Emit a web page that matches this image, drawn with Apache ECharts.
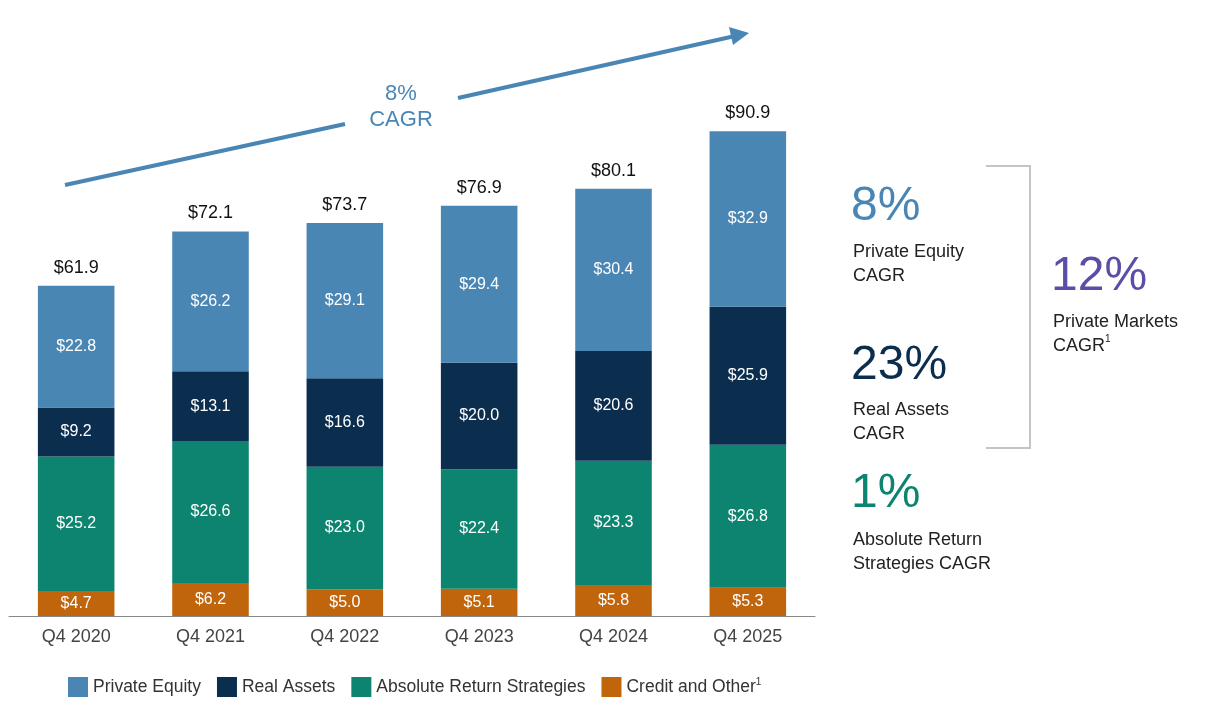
<!DOCTYPE html>
<html>
<head>
<meta charset="utf-8">
<script src="https://cdn.jsdelivr.net/npm/echarts@6/dist/echarts.min.js"></script>
<style>
html,body{margin:0;padding:0;background:#fff;}
#main{width:1205px;height:712px;}
</style>
</head>
<body>
<div id="main"></div>
<script>
// 数据
var quarters = ['Q4 2020', 'Q4 2021', 'Q4 2022', 'Q4 2023', 'Q4 2024', 'Q4 2025'];
var privateEquity = [22.8, 26.2, 29.1, 29.4, 30.4, 32.9];
var realAssets = [9.2, 13.1, 16.6, 20.0, 20.6, 25.9];
var absoluteReturn = [25.2, 26.6, 23.0, 22.4, 23.3, 26.8];
var creditOther = [4.7, 6.2, 5.0, 5.1, 5.8, 5.3];
var totals = [61.9, 72.1, 73.7, 76.9, 80.1, 90.9];

var FONT = '"Liberation Sans", Arial';
var C_PE = '#4a86b4', C_RA = '#0b2e4f', C_AR = '#0c8470', C_CR = '#c0650c';

var myChart = echarts.init(document.getElementById('main'));

function seg(name, data, color) {
	return {
		name: name,
		type: 'bar',
		stack: 'aum',
		data: data,
		barWidth: '57%',
		itemStyle: { color: color },
		label: {
			show: true,
			position: 'inside',
			color: '#fff',
			fontFamily: FONT,
			fontSize: 16,
			formatter: function (p) { return '$' + p.value.toFixed(1); }
		}
	};
}

// 顶部合计标签 (透明柱)
var totalSeries = {
	name: 'total',
	type: 'bar',
	stack: 'aum',
	data: totals.map(function () { return 0; }),
	itemStyle: { color: 'transparent' },
	label: {
		show: true,
		position: 'top',
		distance: 9,
		color: '#111',
		fontFamily: FONT,
		fontSize: 18,
		formatter: function (p) { return '$' + totals[p.dataIndex].toFixed(1); }
	}
};

var big = function (text, x, y, color) {
	return { type: 'text', x: x, y: y, style: { text: text, fill: color, font: '48px ' + FONT, verticalAlign: 'middle' } };
};
var small = function (text, x, y) {
	return { type: 'text', x: x, y: y, style: { text: text, fill: '#222', font: '18px ' + FONT, lineHeight: 24, verticalAlign: 'middle' } };
};

option = {
	animation: false,
	grid: { left: 9, right: 390, top: 8, bottom: 96 },
	legend: {
		left: 63,
		bottom: 10,
		itemWidth: 20,
		itemHeight: 20,
		itemGap: 16,
		icon: 'rect',
		data: ['Private Equity', 'Real Assets', 'Absolute Return Strategies', 'Credit and Other'],
		formatter: function (n) { return n == 'Credit and Other' ? n + '{sup|1}' : n; },
		textStyle: {
			fontFamily: FONT, fontSize: 17.5, color: '#333',
			rich: { sup: { fontFamily: FONT, fontSize: 10, verticalAlign: 'top', padding: [0, 0, 10, 0], color: '#333' } }
		}
	},
	xAxis: {
		type: 'category',
		data: quarters,
		axisLine: { lineStyle: { color: '#888', width: 1 } },
		axisTick: { show: false },
		axisLabel: { color: '#444', fontFamily: FONT, fontSize: 18, margin: 12 }
	},
	yAxis: {
		type: 'value',
		min: 0,
		max: 114,
		show: false,
		splitLine: { show: false }
	},
	series: [
		seg('Credit and Other', creditOther, C_CR),
		seg('Absolute Return Strategies', absoluteReturn, C_AR),
		seg('Real Assets', realAssets, C_RA),
		seg('Private Equity', privateEquity, C_PE),
		totalSeries
	],
	graphic: [
		// 8% CAGR 箭头
		{ type: 'line', shape: { x1: 65, y1: 185, x2: 345, y2: 124 }, style: { stroke: C_PE, lineWidth: 4 } },
		{ type: 'line', shape: { x1: 458, y1: 98, x2: 735, y2: 36 }, style: { stroke: C_PE, lineWidth: 4 } },
		{ type: 'polygon', shape: { points: [[749, 33], [729, 27], [733, 45]] }, style: { fill: C_PE } },
		{ type: 'text', x: 401, y: 107, style: { text: '8%\nCAGR', fill: C_PE, font: '22px ' + FONT, align: 'center', verticalAlign: 'middle', lineHeight: 26 } },
		// 右侧括号
		{ type: 'polyline', shape: { points: [[986, 166], [1030, 166], [1030, 448], [986, 448]] }, style: { stroke: '#c4c4c4', lineWidth: 2, fill: null } },
		big('8%', 851, 207, C_PE),
		small('Private Equity\nCAGR', 853, 264),
		big('23%', 851, 366, C_RA),
		small('Real Assets\nCAGR', 853, 422),
		big('1%', 851, 494, C_AR),
		small('Absolute Return\nStrategies CAGR', 853, 552),
		big('12%', 1051, 277, '#5b4ea8'),
		{
			type: 'text', x: 1053, y: 334,
			style: {
				text: 'Private Markets\nCAGR{sup|1}', fill: '#222', font: '18px ' + FONT, lineHeight: 24, verticalAlign: 'middle',
				rich: { sup: { fontFamily: FONT, fontSize: 10, verticalAlign: 'top', fill: '#222', padding: [0, 0, 10, 0] } }
			}
		}
	]
};

myChart.setOption(option, true);
</script>
</body>
</html>
